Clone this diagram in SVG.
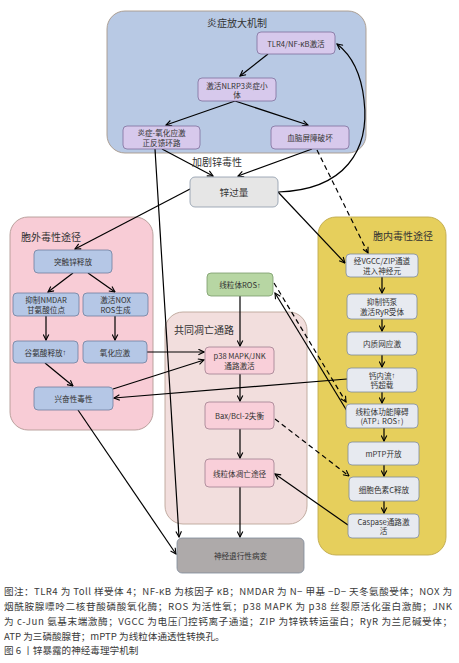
<svg xmlns="http://www.w3.org/2000/svg" width="459" height="663" viewBox="0 0 459 663">
<defs>
<marker id="a" viewBox="0 0 10 10" refX="9" refY="5" markerWidth="7" markerHeight="7" orient="auto" markerUnits="userSpaceOnUse">
<path d="M1,1 L9,5 L1,9" fill="none" stroke="#000" stroke-width="1.6"/>
</marker>
</defs>
<style>
text{font-family:"Noto Sans CJK SC","Noto Sans",sans-serif;fill:#333;}
.t{font-size:7.6px;text-anchor:middle;dominant-baseline:central;}
.h{font-size:10px;dominant-baseline:central;}
.c{font-size:9.6px;fill:#3a3a3a;}
.arw{font-family:"Liberation Sans","DejaVu Sans",sans-serif;}
.ln{fill:none;stroke:#000;stroke-width:1.2;}
.ar{marker-end:url(#a);}
.ds{stroke-dasharray:5,3.5;}
.pur{fill:#d7c9ec;stroke:#7e6f9c;stroke-width:0.8;}
.blu{fill:#b5c7e6;stroke:#6e7f9e;stroke-width:0.8;}
.pnk{fill:#f9cfd9;stroke:#a07f8f;stroke-width:0.8;}
.grn{fill:#b7d6a3;stroke:#7a9a6a;stroke-width:0.8;}
.gry{fill:#e7eaf0;stroke:#7f8a9b;stroke-width:0.8;}
</style>
<rect width="459" height="663" fill="#fff"/>

<g id="c_inflam">
<rect x="107" y="11" width="259" height="142" rx="18" fill="#b8c9e4" stroke="#a8998a" stroke-width="0.9"/>
<text class="h" x="237" y="22" text-anchor="middle">炎症放大机制</text>
</g>
<g id="c_extra">
<rect x="10" y="217" width="143" height="213" rx="18" fill="#f8ccd6" stroke="#b39a95" stroke-width="0.9"/>
<text class="h" x="21" y="236">胞外毒性途径</text>
</g>
<g id="c_apop">
<rect x="165" y="312" width="142" height="212" rx="18" fill="#f2dedd" stroke="#bba598" stroke-width="0.9"/>
<text class="h" x="174" y="329">共同凋亡通路</text>
</g>
<g id="c_intra">
<rect x="318" y="217" width="128" height="338" rx="18" fill="#e6cf5c" stroke="#bfa94e" stroke-width="0.9"/>
<text class="h" x="373" y="235">胞内毒性途径</text>
</g>

<g id="connectors">
<line class="ln ar" x1="268" y1="54" x2="240" y2="76"/>
<line class="ln ar" x1="235" y1="101" x2="166" y2="125"/>
<line class="ln ar" x1="235" y1="101" x2="308" y2="125"/>
<line class="ln ar" x1="162" y1="149" x2="213" y2="176"/>
<line class="ln ar" x1="312" y1="149" x2="238" y2="176"/>
<line class="ln ar" x1="155" y1="149" x2="179" y2="537"/>
<path class="ln ar" d="M278,192 C345,190 370,150 364,100 C361,72 350,54 337,44"/>
<line class="ln ar" x1="192" y1="188" x2="75" y2="249"/>
<line class="ln ar" x1="278" y1="192" x2="345" y2="263"/>
<line class="ln ar ds" x1="317" y1="150" x2="368" y2="253"/>
<line class="ln ar" x1="73" y1="273" x2="48" y2="292"/>
<line class="ln ar" x1="88" y1="273" x2="115" y2="292"/>
<line class="ln ar" x1="46" y1="316" x2="46" y2="340"/>
<line class="ln ar" x1="115" y1="316" x2="115" y2="340"/>
<line class="ln ar" x1="45" y1="363" x2="73" y2="386"/>
<line class="ln ar" x1="147" y1="352" x2="204" y2="352"/>
<line class="ln ar" x1="113" y1="389" x2="204" y2="360"/>
<line class="ln ar" x1="347" y1="379" x2="114" y2="398"/>
<line class="ln ar" x1="78" y1="410" x2="176" y2="554"/>
<line class="ln ar" x1="240" y1="296" x2="240" y2="346"/>
<line class="ln ar" x1="240" y1="374" x2="240" y2="401"/>
<line class="ln ar" x1="240" y1="429" x2="240" y2="458"/>
<line class="ln ar" x1="240" y1="487" x2="240" y2="537"/>
<line class="ln ar ds" x1="274" y1="283" x2="346" y2="402"/>
<line class="ln ar" x1="347" y1="411" x2="275" y2="293"/>
<line class="ln ar ds" x1="275" y1="419" x2="349" y2="476"/>
<line class="ln ar" x1="348" y1="525" x2="275" y2="474"/>
<line class="ln ar" x1="382" y1="277" x2="382" y2="293"/>
<line class="ln ar" x1="382" y1="319" x2="382" y2="331"/>
<line class="ln ar" x1="382" y1="355" x2="382" y2="367"/>
<line class="ln ar" x1="382" y1="392" x2="382" y2="403"/>
<line class="ln ar" x1="384" y1="428" x2="384" y2="441"/>
<line class="ln ar" x1="384" y1="465" x2="384" y2="476"/>
<line class="ln ar" x1="384" y1="501" x2="384" y2="513"/>
</g>

<g id="n_tlr4"><rect class="pur" x="257" y="32" width="78" height="22" rx="4"/><text class="t" x="296" y="43">TLR4/NF-κB激活</text></g>
<g id="n_nlrp3"><rect class="pur" x="198" y="78" width="78" height="23" rx="4"/><text class="t" x="237" y="85">激活NLRP3炎症小</text><text class="t" x="237" y="94.5">体</text></g>
<g id="n_loop"><rect class="pur" x="123" y="126" width="77" height="23" rx="4"/><text class="t" x="161.5" y="132.5">炎症-氧化应激</text><text class="t" x="161.5" y="142">正反馈环路</text></g>
<g id="n_bbb"><rect class="pur" x="271" y="126" width="78" height="23" rx="4"/><text class="t" x="310" y="137.5">血脑屏障破坏</text></g>
<text class="h" x="217" y="161" text-anchor="middle">加剧锌毒性</text>

<g id="n_zinc"><rect x="190" y="177" width="88" height="30" rx="5" fill="#e6e6e6" stroke="#8a98a8" stroke-width="0.8"/><text class="t" x="234" y="192" style="font-size:9.6px">锌过量</text></g>

<g id="n_syn"><rect class="blu" x="34" y="250" width="78" height="23" rx="4"/><text class="t" x="73" y="261.5">突触锌释放</text></g>
<g id="n_nmdar"><rect class="blu" x="13" y="293" width="66" height="23" rx="4"/><text class="t" x="46" y="299.5">抑制NMDAR</text><text class="t" x="46" y="309">甘氨酸位点</text></g>
<g id="n_nox"><rect class="blu" x="83" y="293" width="65" height="23" rx="4"/><text class="t" x="115.5" y="299.5">激活NOX</text><text class="t" x="115.5" y="309">ROS生成</text></g>
<g id="n_glu"><rect class="blu" x="13" y="341" width="65" height="22" rx="4"/><text class="t" x="45.5" y="352">谷氨酸释放<tspan class="arw">↑</tspan></text></g>
<g id="n_ox"><rect class="blu" x="83" y="341" width="64" height="22" rx="4"/><text class="t" x="115" y="352">氧化应激</text></g>
<g id="n_exc"><rect class="blu" x="34" y="387" width="79" height="23" rx="4"/><text class="t" x="73.5" y="398.5">兴奋性毒性</text></g>

<g id="n_ros"><rect class="grn" x="207" y="273" width="66" height="23" rx="4"/><text class="t" x="240" y="284.5">线粒体ROS<tspan class="arw">↑</tspan></text></g>
<g id="n_p38"><rect class="pnk" x="205" y="347" width="69" height="27" rx="4"/><text class="t" x="239.5" y="355.5">p38 MAPK/JNK</text><text class="t" x="239.5" y="365">通路激活</text></g>
<g id="n_bax"><rect class="pnk" x="205" y="402" width="69" height="27" rx="4"/><text class="t" x="239.5" y="415.5">Bax/Bcl-2失衡</text></g>
<g id="n_mito"><rect class="pnk" x="205" y="459" width="69" height="28" rx="4"/><text class="t" x="239.5" y="473">线粒体凋亡途径</text></g>

<g id="n_vgcc"><rect class="gry" x="346" y="254" width="72" height="23" rx="4"/><text class="t" x="382" y="260.5">经VGCC/ZIP通道</text><text class="t" x="382" y="270">进入神经元</text></g>
<g id="n_ryr"><rect class="gry" x="347" y="294" width="70" height="25" rx="4"/><text class="t" x="382" y="301.5">抑制钙泵</text><text class="t" x="382" y="311">激活RyR受体</text></g>
<g id="n_er"><rect class="gry" x="347" y="332" width="70" height="23" rx="4"/><text class="t" x="382" y="343.5">内质网应激</text></g>
<g id="n_ca"><rect class="gry" x="347" y="368" width="70" height="24" rx="4"/><text class="t" x="382" y="375">钙内流<tspan class="arw">↑</tspan></text><text class="t" x="382" y="384.5">钙超载</text></g>
<g id="n_mdys"><rect class="gry" x="346" y="404" width="72" height="24" rx="4"/><text class="t" x="382" y="411">线粒体功能障碍</text><text class="t" x="382" y="420.5">(ATP<tspan class="arw">↓</tspan> ROS<tspan class="arw">↑</tspan>)</text></g>
<g id="n_mptp"><rect class="gry" x="348" y="442" width="71" height="23" rx="4"/><text class="t" x="383.5" y="453.5">mPTP开放</text></g>
<g id="n_cytc"><rect class="gry" x="349" y="477" width="70" height="24" rx="4"/><text class="t" x="384" y="489">细胞色素C释放</text></g>
<g id="n_casp"><rect class="gry" x="348" y="514" width="71" height="24" rx="4"/><text class="t" x="383.5" y="521">Caspase通路激</text><text class="t" x="383.5" y="530.5">活</text></g>

<g id="n_neuro"><rect x="177" y="538" width="127" height="35" rx="5" fill="#aeaaaa" stroke="#7f8a9b" stroke-width="0.8"/><text class="t" x="240.5" y="555.5">神经退行性病变</text></g>

<g id="caption">
<text class="c" x="4" y="595" textLength="448" lengthAdjust="spacing">图注：TLR4 为 Toll 样受体 4；NF-κB 为核因子 κB；NMDAR 为 N− 甲基 −D− 天冬氨酸受体；NOX 为</text>
<text class="c" x="4" y="610" textLength="448" lengthAdjust="spacing">烟酰胺腺嘌呤二核苷酸磷酸氧化酶；ROS 为活性氧；p38 MAPK 为 p38 丝裂原活化蛋白激酶；JNK</text>
<text class="c" x="4" y="625" textLength="448" lengthAdjust="spacing">为 c-Jun 氨基末端激酶；VGCC 为电压门控钙离子通道；ZIP 为锌铁转运蛋白；RyR 为兰尼碱受体；</text>
<text class="c" x="4" y="640">ATP 为三磷酸腺苷；mPTP 为线粒体通透性转换孔。</text>
<text class="c" x="4" y="654">图 6 丨锌暴露的神经毒理学机制</text>
</g>
</svg>
